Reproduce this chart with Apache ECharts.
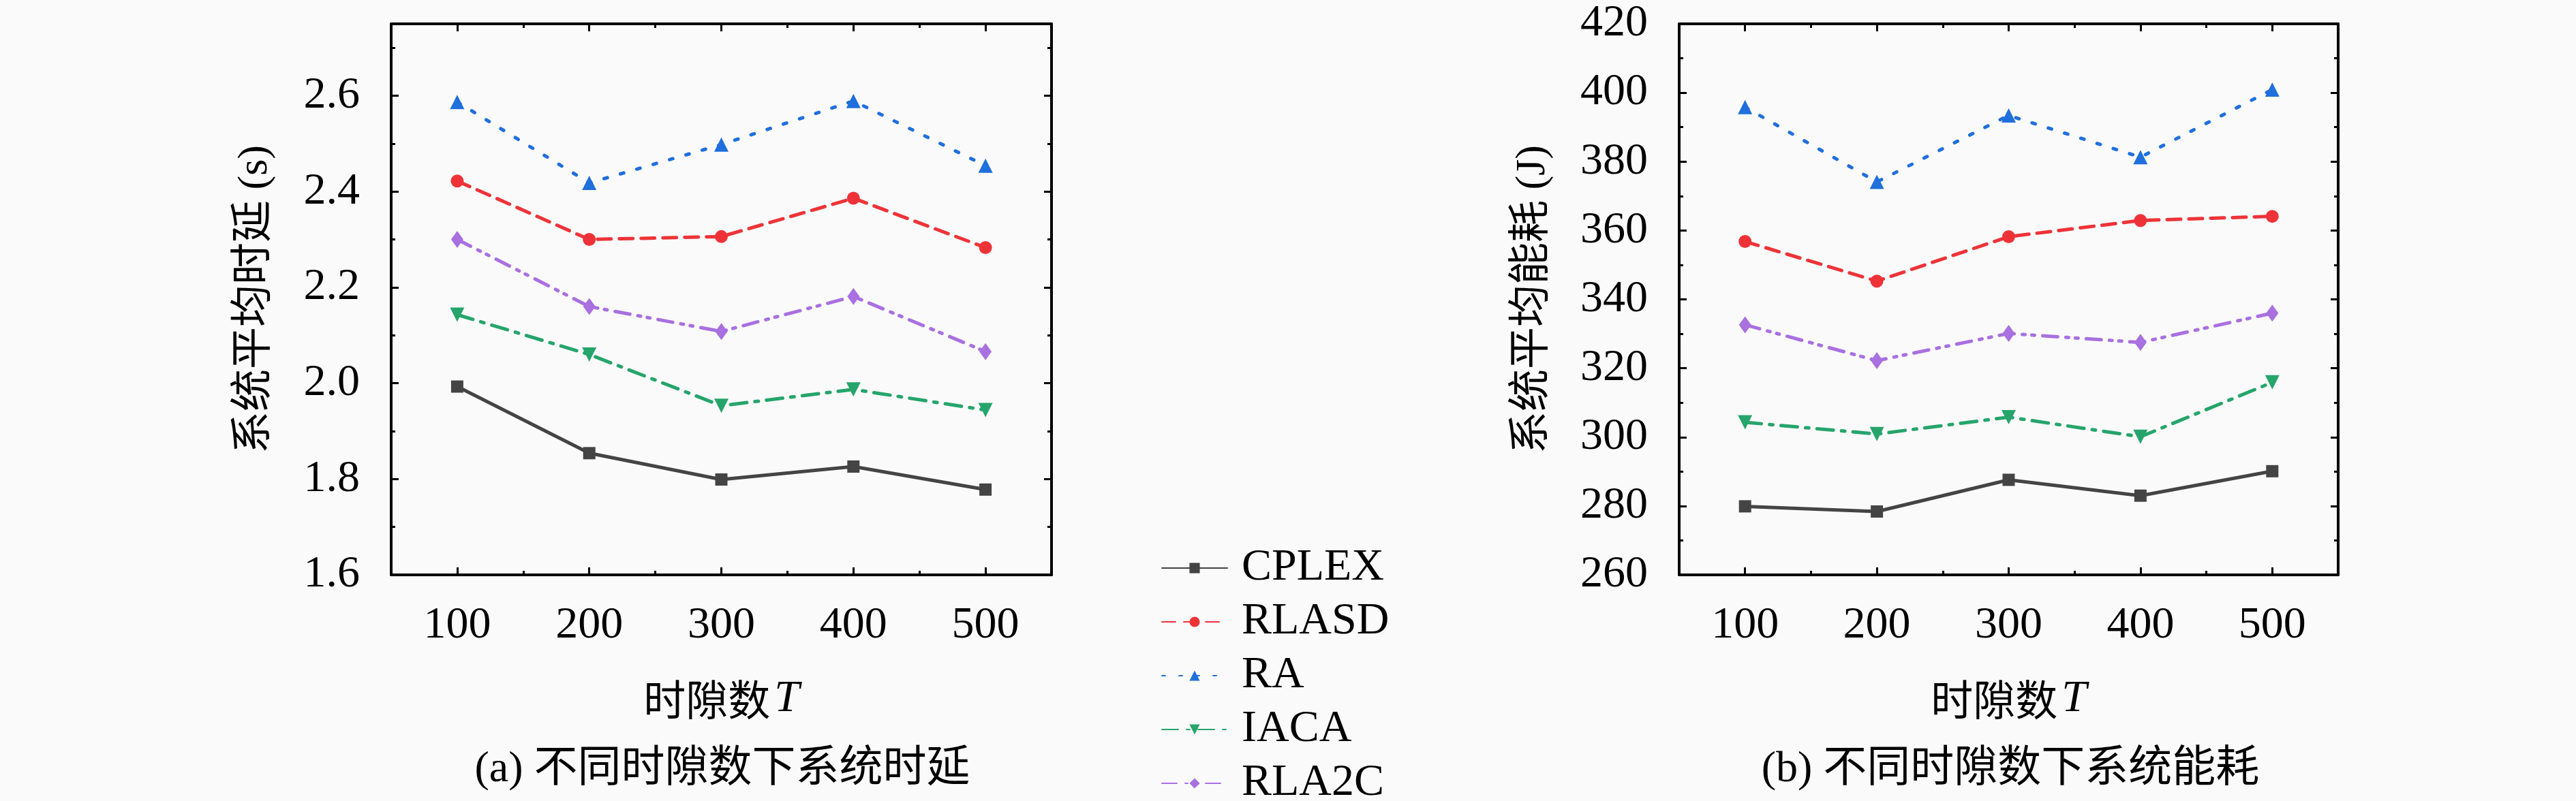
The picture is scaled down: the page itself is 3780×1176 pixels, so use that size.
<!DOCTYPE html>
<html>
<head>
<meta charset="utf-8">
<title>时隙数对比</title>
<script src="https://cdn.jsdelivr.net/npm/echarts@6/dist/echarts.min.js"></script>
<style>
    html, body { margin: 0; padding: 0; background: #fafafa; }
    #index { width: 3780px; height: 1176px; }
</style>
</head>
<body>
<div id="index"></div>
<script>
//x categories
var slotLabels = ['100', '200', '300', '400', '500'];
var seriesNames = ['CPLEX', 'RLASD', 'RA', 'IACA', 'RLA2C'];

//(a) delay, s
var delayCPLEX = [1.993, 1.854, 1.799, 1.826, 1.778];
var delayRLASD = [2.422, 2.300, 2.306, 2.386, 2.283];
var delayRA = [2.587, 2.418, 2.498, 2.589, 2.454];
var delayIACA = [2.143, 2.060, 1.953, 1.987, 1.944];
var delayRLA2C = [2.300, 2.160, 2.108, 2.181, 2.066];

//(b) energy, J
var energyCPLEX = [279.9, 278.4, 287.6, 283.0, 290.1];
var energyRLASD = [356.8, 345.3, 358.2, 362.9, 364.1];
var energyRA = [395.8, 374.1, 393.4, 381.3, 400.9];
var energyIACA = [304.3, 300.9, 305.8, 300.1, 315.9];
var energyRLA2C = [332.6, 322.2, 330.1, 327.5, 336.0];

//y axis ranges: [min, max, major step, minor step]
var delayRange = [1.6, 2.75, 0.2, 0.1];
var energyRange = [260, 420, 20, 10];

var serif = "'Liberation Serif', 'Noto Sans CJK SC', serif";
var colors = ['#444444', '#ee3338', '#1f6fdc', '#25a56b', '#a970e0'];
var dashes = ['solid', [20, 12], [5, 20], [24, 12, 5, 12], [22, 12, 4, 10, 4, 12]];
var symbols = ['rect', 'circle', 'triangle', 'path://M0,0L2,0L1,1.7Z', 'diamond'];
var symbolSizes = [18, 19, 21, 21, [18, 25]];

function xAxes(g) {
    var axes = [];
    var positions = ['bottom', 'bottom', 'top', 'top'];
    for (var i = 0; i < 4; i++) {
        var major = (i % 2 == 0);
        axes.push({
            type: 'category',
            gridIndex: g,
            data: slotLabels,
            position: positions[i],
            boundaryGap: true,
            axisLine: {show: major, onZero: false, lineStyle: {color: '#000', width: 4}},
            axisTick: {show: true, inside: true, alignWithLabel: major, length: major ? 11 : 6,
                lineStyle: {color: '#000', width: 3}},
            axisLabel: {show: i == 0, fontSize: 66, fontFamily: serif, color: '#000', margin: 42},
            splitLine: {show: false},
            name: i == 0 ? '{c|时隙数}{t|T}' : '',
            nameLocation: 'middle',
            nameGap: 150,
            nameTextStyle: {
                rich: {
                    c: {fontSize: 62, fontFamily: "'Noto Sans CJK SC'", color: '#000'},
                    t: {fontSize: 66, fontFamily: serif, fontStyle: 'italic', color: '#000', padding: [0, 0, 0, 6]}
                }
            }
        });
    }
    return axes;
}

function yAxes(g, range, name, nameGap, fmt) {
    var axes = [];
    var positions = ['left', 'left', 'right', 'right'];
    for (var i = 0; i < 4; i++) {
        var major = (i % 2 == 0);
        axes.push({
            type: 'value',
            gridIndex: g,
            position: positions[i],
            min: range[0],
            max: range[1],
            interval: major ? range[2] : range[3],
            axisLine: {show: major, onZero: false, lineStyle: {color: '#000', width: 4}},
            axisTick: {show: true, inside: true, length: major ? 11 : 6, lineStyle: {color: '#000', width: 3}},
            axisLabel: {show: i == 0, fontSize: 66, fontFamily: serif, color: '#000', margin: 46,
                showMaxLabel: range[1] % range[2] == 0, formatter: fmt},
            splitLine: {show: false},
            name: i == 0 ? name : '',
            nameLocation: 'middle',
            nameGap: nameGap,
            nameTextStyle: {fontSize: 62, fontFamily: serif, color: '#000'}
        });
    }
    return axes;
}

function makeSeries(g, lists) {
    var out = [];
    for (var i = 0; i < lists.length; i++) {
        out.push({
            name: seriesNames[i],
            type: 'line',
            xAxisIndex: g * 4,
            yAxisIndex: g * 4,
            data: lists[i],
            symbol: symbols[i],
            symbolSize: symbolSizes[i],
            showAllSymbol: true,
            color: colors[i],
            itemStyle: {color: colors[i]},
            lineStyle: {color: colors[i], width: 5, type: dashes[i], cap: 'round'},
            animation: false
        });
    }
    return out;
}

drawSlots();
function drawSlots() {
    var myChart = echarts.init(document.getElementById("index"));
    var series = makeSeries(0, [delayCPLEX, delayRLASD, delayRA, delayIACA, delayRLA2C])
        .concat(makeSeries(1, [energyCPLEX, energyRLASD, energyRA, energyIACA, energyRLA2C]));
    var option = {
        backgroundColor: '#fafafa',
        animation: false,
        grid: [
            {left: 574, top: 35, width: 969, height: 809},
            {left: 2464, top: 35, width: 967, height: 809}
        ],
        xAxis: xAxes(0).concat(xAxes(1)),
        yAxis: yAxes(0, delayRange, '系统平均时延 (s)', 168, function (v) { return v.toFixed(1); })
            .concat(yAxes(1, energyRange, '系统平均能耗 (J)', 183, function (v) { return String(v); })),
        legend: {
            data: seriesNames,
            orient: 'vertical',
            left: 1704,
            top: 801,
            height: 700,
            padding: 0,
            itemWidth: 96,
            itemHeight: 19,
            itemGap: 13,
            textStyle: {fontSize: 66, fontFamily: serif, color: '#000', padding: [0, 0, 0, 16]}
        },
        graphic: [
            {type: 'text', x: 1060, y: 1130,
                style: {text: '(a) 不同时隙数下系统时延', fontSize: 64, fontFamily: serif, fill: '#000',
                    align: 'center', verticalAlign: 'middle'}},
            {type: 'text', x: 2950, y: 1130,
                style: {text: '(b) 不同时隙数下系统能耗', fontSize: 64, fontFamily: serif, fill: '#000',
                    align: 'center', verticalAlign: 'middle'}}
        ],
        series: series
    };
    myChart.setOption(option);
}
</script>
</body>
</html>
